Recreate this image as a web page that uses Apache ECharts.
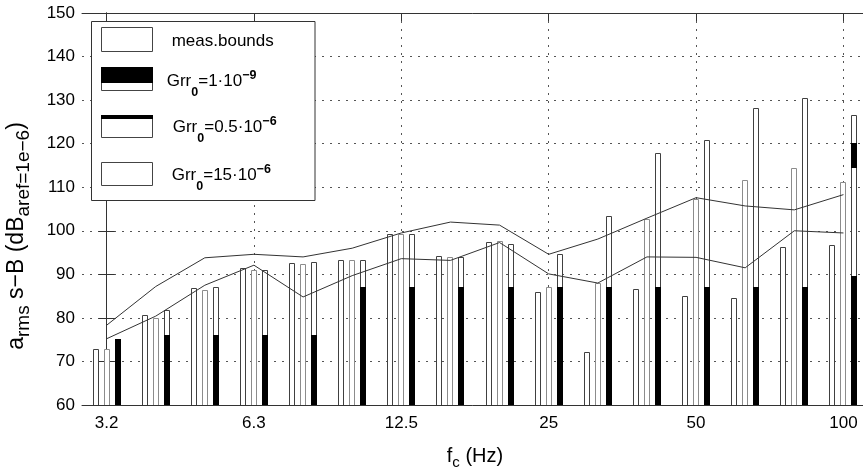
<!DOCTYPE html>
<html><head><meta charset="utf-8">
<script src="https://cdn.jsdelivr.net/npm/echarts@6/dist/echarts.min.js"></script>
<style>html,body{margin:0;padding:0;background:#fff}#c{width:863px;height:470px}</style>
</head><body><div id="c"></div>
<script>
// Third-octave band centre frequencies (Hz)
const bands = ['3.15','4','5','6.3','8','10','12.5','16','20','25','31.5','40','50','63','80','100'];
const tickIdx = [0, 3, 6, 9, 12, 15];
const tickLabels = ['3.2', '6.3', '12.5', '25', '50', '100'];
const yTicks = [60, 70, 80, 90, 100, 110, 120, 130, 140, 150];

// measurement bounds (lines)
const upperBound = [78.3, 87.2, 93.8, 94.6, 94.0, 96.0, 99.5, 102.0, 101.3, 94.6, 98.1, 102.9, 107.6, 105.7, 104.8, 108.3];
const lowerBound = [75.2, 80.4, 87.5, 92.1, 84.8, 89.7, 93.6, 93.2, 97.3, 90.1, 88.0, 94.0, 93.9, 91.5, 100.0, 99.5];

// bars (top values, dB)
const barA = [72.8, 80.6, 86.8, 91.4, 92.5, 93.4, 99.2, 94.1, 97.5, 86.0, 72.1, 86.6, 85.0, 84.5, 96.2, 96.7];
const barB = [72.8, 80.0, 86.3, 91.1, 92.3, 93.4, 99.3, 93.9, 97.6, 87.2, 87.9, 102.7, 107.4, 111.6, 114.3, 111.1];
const barC = [75.1, 81.8, 87.2, 91.0, 92.8, 93.4, 99.3, 94.0, 96.9, 94.7, 103.3, 117.8, 120.9, 128.3, 130.4, 126.6];
const barCBlack = [75.1, 76.1, 76.1, 76.1, 76.1, 87.0, 87.0, 87.0, 87.0, 87.0, 87.0, 87.2, 87.2, 87.2, 87.2, 89.7];
const barCBlack2Low  = [null, null, null, null, null, null, null, null, null, null, null, null, null, null, null, 114.5];
const barCBlack2High = [null, null, null, null, null, null, null, null, null, null, null, null, null, null, null, 120.1];

const FONT = 'Liberation Sans';
const BASE = 60;

function makeRender(dx, stroke, withBlack) {
  return function (params, api) {
    const i = api.value(0);
    const top = api.value(1);
    const pb = api.coord([i, BASE]);
    const pt = api.coord([i, top]);
    const L = Math.round(pt[0] + dx - 3);
    const yTop = Math.round(pt[1]) + 0.5;
    const yBase = Math.round(pb[1]) + 0.5;
    const children = [{
      type: 'rect',
      shape: { x: L + 0.5, y: yTop, width: 5, height: yBase - yTop },
      style: { fill: '#fff', stroke: stroke, lineWidth: 1 }
    }];
    if (withBlack) {
      const pk = api.coord([i, api.value(2)]);
      const yk = Math.round(pk[1]);
      children.push({ type: 'rect', shape: { x: L, y: yk, width: 6, height: Math.round(pb[1]) - yk + 1 }, style: { fill: '#000' } });
      const lo = api.value(3), hi = api.value(4);
      if (!isNaN(lo) && !isNaN(hi)) {
        const p1 = api.coord([i, hi]), p2 = api.coord([i, lo]);
        children.push({ type: 'rect', shape: { x: L, y: Math.round(p1[1]), width: 6, height: Math.round(p2[1]) - Math.round(p1[1]) }, style: { fill: '#000' } });
      }
    }
    return { type: 'group', children: children };
  };
}

const nv = v => (v === null ? '-' : v);
const dataA = bands.map((b, i) => [i, barA[i]]);
const dataB = bands.map((b, i) => [i, barB[i]]);
const dataC = bands.map((b, i) => [i, barC[i], barCBlack[i], nv(barCBlack2Low[i]), nv(barCBlack2High[i])]);

const gridLine = { show: true, lineStyle: { color: '#555', width: 1, type: [2, 6] } };

const chart = echarts.init(document.getElementById('c'), null, { renderer: 'canvas' });

const legendX = 101.5;
const legendItems = [
  { y: 27.5, h: 24, black: 0 },
  { y: 67.5, h: 23, black: 16 },
  { y: 115.5, h: 22, black: 4 },
  { y: 162.5, h: 23, black: 0 }
];
const richLegend = {
  m: { fontSize: 17, fontFamily: FONT, color: '#000' },
  s: { fontSize: 12.5, fontWeight: 'bold', fontFamily: FONT, color: '#000', padding: [22, 0, 0, 0] },
  p: { fontSize: 12.5, fontWeight: 'bold', fontFamily: FONT, color: '#000', padding: [0, 0, 12, 0] }
};
const legendTexts = [
  { x: 171.7, y: 41.8, text: '{m|meas.bounds}' },
  { x: 166.7, y: 81.2, text: '{m|Grr}{s|0}{m|=1·10}{p|−9}' },
  { x: 172.7, y: 127.8, text: '{m|Grr}{s|0}{m|=0.5·10}{p|−6}' },
  { x: 171.7, y: 175.2, text: '{m|Grr}{s|0}{m|=15·10}{p|−6}' }
];
const graphics = [{
  type: 'rect', z: 100,
  shape: { x: 91.5, y: 21.5, width: 223.5, height: 179 },
  style: { fill: '#fff', stroke: '#333', lineWidth: 1 }
}];
legendItems.forEach(it => {
  graphics.push({ type: 'rect', z: 101, shape: { x: legendX, y: it.y, width: 51, height: it.h }, style: { fill: '#fff', stroke: '#444', lineWidth: 1 } });
  if (it.black) graphics.push({ type: 'rect', z: 102, shape: { x: legendX - 0.5, y: it.y - 0.5, width: 52, height: it.black }, style: { fill: '#000' } });
});
legendTexts.forEach(t => {
  graphics.push({ type: 'text', z: 103, x: t.x, y: t.y, style: { text: t.text, rich: richLegend, fontSize: 17, fontFamily: FONT, verticalAlign: 'middle', align: 'left', fill: '#000' } });
});

const axisCommonX = {
  type: 'value', min: -0.5, max: 15.5,
  axisLine: { show: true, onZero: false, lineStyle: { color: '#333', width: 1 } },
  axisTick: { show: true, inside: true, length: 8, customValues: tickIdx, lineStyle: { color: '#333' } }
};

chart.setOption({
  animation: false,
  backgroundColor: '#fff',
  grid: { left: 82, right: -5, top: 13, bottom: 65, containLabel: false, outerBoundsMode: 'none' },
  xAxis: [
    Object.assign({}, axisCommonX, {
      position: 'bottom',
      name: '{m|f}{s|c}{m| (Hz)}',
      nameLocation: 'middle', nameGap: 38,
      nameTextStyle: {
        rich: {
          m: { fontSize: 20, fontFamily: FONT, color: '#000' },
          s: { fontSize: 15, fontFamily: FONT, color: '#000', padding: [12, 0, 0, 0] }
        }
      },
      axisLabel: {
        show: true, margin: 10, fontSize: 17, fontFamily: FONT, color: '#000',
        customValues: tickIdx,
        formatter: v => tickLabels[tickIdx.indexOf(Math.round(v))] || ''
      },
      splitLine: gridLine
    }),
    Object.assign({}, axisCommonX, {
      position: 'top',
      axisLabel: { show: false },
      splitLine: { show: false }
    })
  ],
  yAxis: [
    {
      type: 'value', min: 60, max: 150, interval: 10, position: 'left',
      axisLine: { show: true, lineStyle: { color: '#333' } },
      axisTick: { show: true, inside: true, length: 8, lineStyle: { color: '#333' } },
      axisLabel: { margin: 7, fontSize: 17, fontFamily: FONT, color: '#000' },
      splitLine: gridLine,
      name: '{m|a}{s|rms}{m| s−B (dB}{s|aref=1e−6}{m|)}',
      nameLocation: 'middle', nameGap: 49,
      nameTextStyle: {
        padding: [0, 54, 0, 0],
        rich: {
          m: { fontSize: 23, fontFamily: FONT, color: '#000' },
          s: { fontSize: 19, fontFamily: FONT, color: '#000', padding: [13, 0, 0, 0] }
        }
      }
    },
    {
      type: 'value', min: 60, max: 150, interval: 10, position: 'right',
      axisLine: { show: true, lineStyle: { color: '#333' } },
      axisTick: { show: true, inside: true, length: 8, lineStyle: { color: '#333' } },
      axisLabel: { show: false },
      splitLine: { show: false }
    }
  ],
  series: [
    { type: 'custom', name: 'Grr0=15e-6', renderItem: makeRender(-11, '#404040', false), data: dataA, encode: { x: 0, y: 1 }, clip: true, z: 2 },
    { type: 'custom', name: 'Grr0=0.5e-6', renderItem: makeRender(0, '#8c8c8c', false), data: dataB, encode: { x: 0, y: 1 }, clip: true, z: 2 },
    { type: 'custom', name: 'Grr0=1e-9', renderItem: makeRender(11, '#404040', true), data: dataC, encode: { x: 0, y: 1 }, clip: true, z: 2 },
    { type: 'line', name: 'meas.bounds upper', data: bands.map((b, i) => [i, upperBound[i]]), symbol: 'none', lineStyle: { color: '#333', width: 1 }, z: 5, silent: true },
    { type: 'line', name: 'meas.bounds lower', data: bands.map((b, i) => [i, lowerBound[i]]), symbol: 'none', lineStyle: { color: '#333', width: 1 }, z: 5, silent: true }
  ],
  graphic: graphics
});
</script>
</body></html>
